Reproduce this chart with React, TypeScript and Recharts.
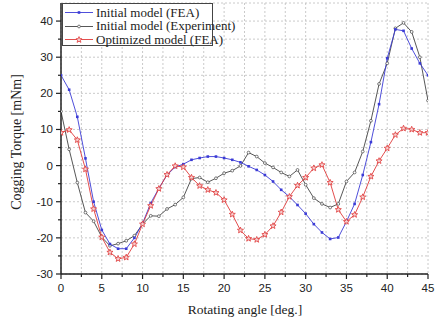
import React from 'react';
import { LineChart, Line, XAxis, YAxis, CartesianGrid } from 'recharts';

const angles = Array.from({ length: 46 }, (_, i) => i);

const initialFea = [
  25, 21, 13.5, 2, -10, -17.8, -21.7, -23, -23, -20,
  -16, -10.4, -6.3, -2.6, -0.4, 0.4, 1.6, 2.1, 2.5, 2.5,
  2.1, 1.6, 0.9, -0.2, -1.2, -2.6, -4.4, -6.7, -8.6, -10.9,
  -13.3, -16.2, -18.5, -20.3, -19.9, -15.5, -10.6, -2.6, 6.5, 17,
  29.7, 37.7, 37.3, 32.4, 28.3, 25,
];

const initialExp = [
  15, 4.5, -4.7, -13, -15.4, -19.8, -22.2, -21.6, -20.8, -19.4,
  -16.2, -13.9, -14, -12, -10.8, -8.8, -3.6, -3.3, -4.6, -3.5,
  -2.1, -1.4, -0.1, 3.6, 2.5, 0.7, -0.5, -1.9, -3, -1.2,
  -5.3, -9, -10.6, -11.6, -10.6, -4.4, -1.9, 3.9, 12.4, 22.6,
  28.3, 38, 39.5, 37, 30, 18,
];

const optimizedFea = [
  9.1, 9.9, 7.1, -1, -12, -19.8, -24, -25.8, -25.4, -21.7,
  -16.2, -11.1, -6.4, -2.5, -0.1, -0.4, -3.3, -5.6, -6.7, -7.5,
  -9.5, -13.5, -17.9, -20.2, -20.5, -19.1, -16.7, -12.9, -8.6, -5.5,
  -3.3, -0.7, 0.2, -4.7, -12.2, -15.5, -13.6, -8.7, -3, 1.3,
  4.8, 8.5, 10.3, 10, 9.1, 9.1,
];

const xTicks = Array.from({ length: 19 }, (_, i) => i * 2.5);
const yTicks = Array.from({ length: 16 }, (_, i) => -30 + i * 5);

const data = angles.map((a, i) => ({
  angle: a,
  fea: initialFea[i],
  exp: initialExp[i],
  opt: optimizedFea[i],
}));

const BLUE = '#3b3bd6';
const BLACK = '#444444';
const RED = '#e03a3a';

const serif = '"Liberation Serif", "Times New Roman", serif';
const sans = '"Liberation Sans", Arial, sans-serif';

const starPath = (cx: number, cy: number, ro: number, ri: number) => {
  let d = '';
  for (let k = 0; k < 10; k++) {
    const r = k % 2 === 0 ? ro : ri;
    const ang = -Math.PI / 2 + (k * Math.PI) / 5;
    d += (k === 0 ? 'M' : 'L') + (cx + r * Math.cos(ang)).toFixed(2) + ',' + (cy + r * Math.sin(ang)).toFixed(2);
  }
  return d + 'Z';
};

const SquareDot = (props: any) => {
  const { cx, cy, index } = props;
  if (cx == null || cy == null) return <g key={index} />;
  return <rect key={index} x={cx - 1.3} y={cy - 1.3} width={2.6} height={2.6} fill={BLUE} />;
};

const CircleDot = (props: any) => {
  const { cx, cy, index } = props;
  if (cx == null || cy == null) return <g key={index} />;
  return <circle key={index} cx={cx} cy={cy} r={1.4} fill="#fff" stroke={BLACK} strokeWidth={0.7} />;
};

const StarDot = (props: any) => {
  const { cx, cy, index } = props;
  if (cx == null || cy == null) return <g key={index} />;
  return <path key={index} d={starPath(cx, cy, 3.2, 1.4)} fill="#f6d0d0" stroke={RED} strokeWidth={0.8} />;
};

const XTick = (props: any) => {
  const { x, y, payload } = props;
  const v = payload.value;
  const major = v % 5 === 0;
  return (
    <g>
      <line x1={x} y1={y} x2={x} y2={y + (major ? 5 : 3)} stroke="#222" strokeWidth={1.2} />
      {major && (
        <text x={x} y={y + 18} textAnchor="middle" fontFamily={sans} fontSize={11.5} fill="#222">
          {v}
        </text>
      )}
    </g>
  );
};

const YTick = (props: any) => {
  const { x, y, payload } = props;
  const v = payload.value;
  const major = v % 10 === 0;
  if (v > 40) return <g />;
  return (
    <g>
      <line x1={x - (major ? 5 : 3)} y1={y} x2={x} y2={y} stroke="#222" strokeWidth={1.2} />
      {major && (
        <text x={x - 8} y={y + 4} textAnchor="end" fontFamily={sans} fontSize={11.5} fill="#222">
          {v}
        </text>
      )}
    </g>
  );
};

const legendItems = [
  { name: 'Initial model (FEA)', color: BLUE, marker: 'square' },
  { name: 'Initial model (Experiment)', color: BLACK, marker: 'circle' },
  { name: 'Optimized model (FEA)', color: RED, marker: 'star' },
];

export default function App() {
  return (
    <div style={{ position: 'absolute', left: 0, top: 0, width: 438, height: 323, background: '#fff' }}>
      <LineChart width={438} height={323} data={data} margin={{ top: 3, right: 10, left: 0, bottom: 0 }}>
        <CartesianGrid stroke="#bdbdbd" strokeDasharray="2 2" strokeWidth={0.8} />
        <XAxis
          dataKey="angle"
          type="number"
          domain={[0, 45]}
          ticks={xTicks}
          interval={0}
          height={49}
          tickSize={0}
          tickMargin={0}
          tickLine={false}
          tick={<XTick />}
          axisLine={{ stroke: '#222', strokeWidth: 1.5 }}
          allowDataOverflow
        />
        <XAxis
          xAxisId="top"
          orientation="top"
          dataKey="angle"
          type="number"
          domain={[0, 45]}
          height={0}
          tick={false}
          tickLine={false}
          axisLine={{ stroke: '#222', strokeWidth: 1.5 }}
        />
        <YAxis
          type="number"
          domain={[-30, 45]}
          ticks={yTicks}
          interval={0}
          width={61}
          tickSize={0}
          tickMargin={0}
          tickLine={false}
          tick={<YTick />}
          axisLine={{ stroke: '#222', strokeWidth: 1.5 }}
          allowDataOverflow
        />
        <YAxis
          yAxisId="right"
          orientation="right"
          domain={[-30, 45]}
          width={0}
          tick={false}
          tickLine={false}
          axisLine={{ stroke: '#222', strokeWidth: 1.5 }}
        />
        <Line
          dataKey="exp"
          stroke={BLACK}
          strokeWidth={0.9}
          dot={<CircleDot />}
          activeDot={false}
          isAnimationActive={false}
        />
        <Line
          dataKey="fea"
          stroke={BLUE}
          strokeWidth={0.9}
          dot={<SquareDot />}
          activeDot={false}
          isAnimationActive={false}
        />
        <Line
          dataKey="opt"
          stroke={RED}
          strokeWidth={0.9}
          dot={<StarDot />}
          activeDot={false}
          isAnimationActive={false}
        />
      </LineChart>
      <div
        style={{
          position: 'absolute',
          left: 17 - 80,
          top: 142 - 9,
          width: 160,
          height: 18,
          lineHeight: '18px',
          textAlign: 'center',
          transform: 'rotate(-90deg)',
          fontFamily: serif,
          fontSize: 14,
          color: '#222',
          whiteSpace: 'nowrap',
        }}
      >
        Cogging Torque [mNm]
      </div>
      <div
        style={{
          position: 'absolute',
          left: 0,
          top: 302,
          width: 490,
          textAlign: 'center',
          fontFamily: serif,
          fontSize: 13.5,
          color: '#222',
        }}
      >
        Rotating angle [deg.]
      </div>
      <div
        style={{
          position: 'absolute',
          left: 62,
          top: 3,
          width: 151,
          height: 43,
          border: '1px solid #444',
          background: '#fff',
          boxSizing: 'border-box',
        }}
      >
        {legendItems.map((it, i) => (
          <div
            key={it.name}
            style={{ position: 'absolute', left: 0, top: 2 + i * 13.5, height: 13, display: 'flex', alignItems: 'center' }}
          >
            <svg width={30} height={13} style={{ marginLeft: 2 }}>
              <line x1={0} y1={6.5} x2={28} y2={6.5} stroke={it.color} strokeWidth={0.9} />
              {it.marker === 'square' && <rect x={12.7} y={5.2} width={2.6} height={2.6} fill={it.color} />}
              {it.marker === 'circle' && <circle cx={14} cy={6.5} r={1.4} fill="#fff" stroke={it.color} strokeWidth={0.7} />}
              {it.marker === 'star' && <path d={starPath(14, 6.8, 3.2, 1.4)} fill="#f6d0d0" stroke={it.color} strokeWidth={0.8} />}
            </svg>
            <span style={{ fontFamily: serif, fontSize: 13, color: '#222', marginLeft: 1, whiteSpace: 'nowrap' }}>
              {it.name}
            </span>
          </div>
        ))}
      </div>
    </div>
  );
}
